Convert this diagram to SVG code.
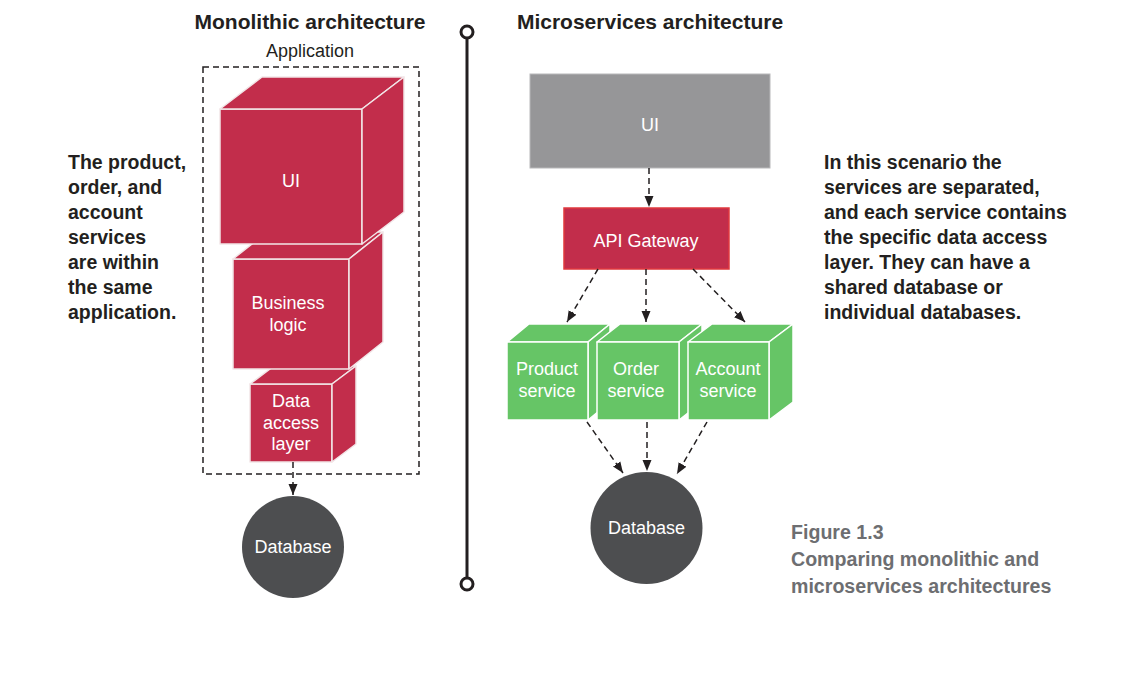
<svg xmlns="http://www.w3.org/2000/svg" width="1143" height="696" viewBox="0 0 1143 696">
<style>
.title{font-family:"Liberation Sans",Arial,sans-serif;font-weight:bold;font-size:21px;fill:#231f20;text-anchor:middle}
.lbl{font-family:"Liberation Sans",Arial,sans-serif;font-size:18px;fill:#ffffff;text-anchor:middle}
.app{font-family:"Liberation Sans",Arial,sans-serif;font-size:18px;fill:#231f20;text-anchor:middle}
.note{font-family:"Liberation Sans",Arial,sans-serif;font-weight:bold;font-size:19.5px;fill:#231f20}
.cap{font-family:"Liberation Sans",Arial,sans-serif;font-weight:bold;font-size:19.6px;fill:#6d6e71}
.red{fill:#c22d4b;stroke:#f2e6e8;stroke-width:1.5;stroke-linejoin:round}
.green{fill:#66c566;stroke:#ffffff;stroke-width:1.5;stroke-linejoin:round}
.db{fill:#4d4e50}
.conn{fill:none;stroke:#231f20;stroke-width:1.5;stroke-dasharray:6 4}
</style>
<defs>
<marker id="arr" markerUnits="userSpaceOnUse" markerWidth="12" markerHeight="12" viewBox="0 0 12 12" refX="11" refY="6" orient="auto">
<path d="M0,1.5 L11,6 L0,10.5 Z" fill="#231f20"/>
</marker>
</defs>
<rect width="1143" height="696" fill="#ffffff"/>

<text class="title" x="310" y="29">Monolithic architecture</text>
<text class="title" x="650" y="29">Microservices architecture</text>

<g id="divider" fill="none" stroke="#231f20" stroke-width="3">
<line x1="467" y1="38" x2="467" y2="578"/>
<circle cx="467" cy="32" r="6" fill="#ffffff"/>
<circle cx="467" cy="584" r="6" fill="#ffffff"/>
</g>

<g id="application">
<text class="app" x="310" y="57">Application</text>
<rect x="203" y="67" width="216" height="407" fill="none" stroke="#231f20" stroke-width="1.5" stroke-dasharray="6 4"/>
</g>

<g id="mono-data">
<rect class="red" x="250" y="384" width="82" height="78"/>
<path class="red" d="M250,384 L274,366 L356,366 L332,384 Z"/>
<path class="red" d="M332,384 L356,366 L356,444 L332,462 Z"/>
<text class="lbl" x="291" y="407">Data</text>
<text class="lbl" x="291" y="429">access</text>
<text class="lbl" x="291" y="450">layer</text>
</g>

<g id="mono-business">
<rect class="red" x="233" y="259" width="116" height="110"/>
<path class="red" d="M233,259 L267,232 L383,232 L349,259 Z"/>
<path class="red" d="M349,259 L383,232 L383,342 L349,369 Z"/>
<text class="lbl" x="288" y="309">Business</text>
<text class="lbl" x="288" y="331">logic</text>
</g>

<g id="mono-ui">
<rect class="red" x="220" y="109" width="142" height="135"/>
<path class="red" d="M220,109 L262,77 L404,77 L362,109 Z"/>
<path class="red" d="M362,109 L404,77 L404,212 L362,244 Z"/>
<text class="lbl" x="291" y="187">UI</text>
</g>

<g id="mono-db">
<circle class="db" cx="293" cy="547" r="51"/>
<text class="lbl" x="293" y="553">Database</text>
</g>

<g id="ms-ui">
<rect x="530" y="74" width="240" height="94" fill="#969698" stroke="#b8b8ba" stroke-width="1"/>
<text class="lbl" x="650" y="131">UI</text>
</g>

<g id="api-gateway">
<rect x="564" y="208" width="165" height="61" fill="#c22d4b" stroke="#e0393e" stroke-width="1.5"/>
<text class="lbl" x="646" y="247">API Gateway</text>
</g>

<g id="product-service">
<path class="green" d="M507,342 L529,324 L610,324 L588,342 Z"/>
<path class="green" d="M588,342 L610,324 L610,402 L588,420 Z"/>
<rect class="green" x="507" y="342" width="81" height="78"/>
<text class="lbl" x="547" y="375">Product</text>
<text class="lbl" x="547" y="397">service</text>
</g>

<g id="order-service">
<path class="green" d="M597,342 L620,324 L702,324 L679,342 Z"/>
<path class="green" d="M679,342 L702,324 L702,402 L679,420 Z"/>
<rect class="green" x="597" y="342" width="82" height="78"/>
<text class="lbl" x="636" y="375">Order</text>
<text class="lbl" x="636" y="397">service</text>
</g>

<g id="account-service">
<path class="green" d="M688,342 L712,324 L793,324 L769,342 Z"/>
<path class="green" d="M769,342 L793,324 L793,402 L769,420 Z"/>
<rect class="green" x="688" y="342" width="81" height="78"/>
<text class="lbl" x="728" y="375">Account</text>
<text class="lbl" x="728" y="397">service</text>
</g>

<g id="ms-db">
<circle class="db" cx="646.5" cy="528" r="56"/>
<text class="lbl" x="646.5" y="534">Database</text>
</g>

<g id="connectors">
<path class="conn" d="M293,462 L293,495" marker-end="url(#arr)"/>
<path class="conn" d="M649,168 L649,207" marker-end="url(#arr)"/>
<path class="conn" d="M598,269 L567,322" marker-end="url(#arr)"/>
<path class="conn" d="M646,269 L646,322" marker-end="url(#arr)"/>
<path class="conn" d="M693,269 L745,322" marker-end="url(#arr)"/>
<path class="conn" d="M587,422 L623,473" marker-end="url(#arr)"/>
<path class="conn" d="M647,422 L647,471" marker-end="url(#arr)"/>
<path class="conn" d="M707,422 L677,474" marker-end="url(#arr)"/>
</g>

<g id="left-note">
<text class="note" x="68" y="169">The product,</text>
<text class="note" x="68" y="194">order, and</text>
<text class="note" x="68" y="219">account</text>
<text class="note" x="68" y="244">services</text>
<text class="note" x="68" y="269">are within</text>
<text class="note" x="68" y="294">the same</text>
<text class="note" x="68" y="319">application.</text>
</g>

<g id="right-note">
<text class="note" x="824" y="169">In this scenario the</text>
<text class="note" x="824" y="194">services are separated,</text>
<text class="note" x="824" y="219">and each service contains</text>
<text class="note" x="824" y="244">the specific data access</text>
<text class="note" x="824" y="269">layer. They can have a</text>
<text class="note" x="824" y="294">shared database or</text>
<text class="note" x="824" y="319">individual databases.</text>
</g>

<g id="caption">
<text class="cap" x="791" y="539">Figure 1.3</text>
<text class="cap" x="791" y="566">Comparing monolithic and</text>
<text class="cap" x="791" y="593">microservices architectures</text>
</g>
</svg>
